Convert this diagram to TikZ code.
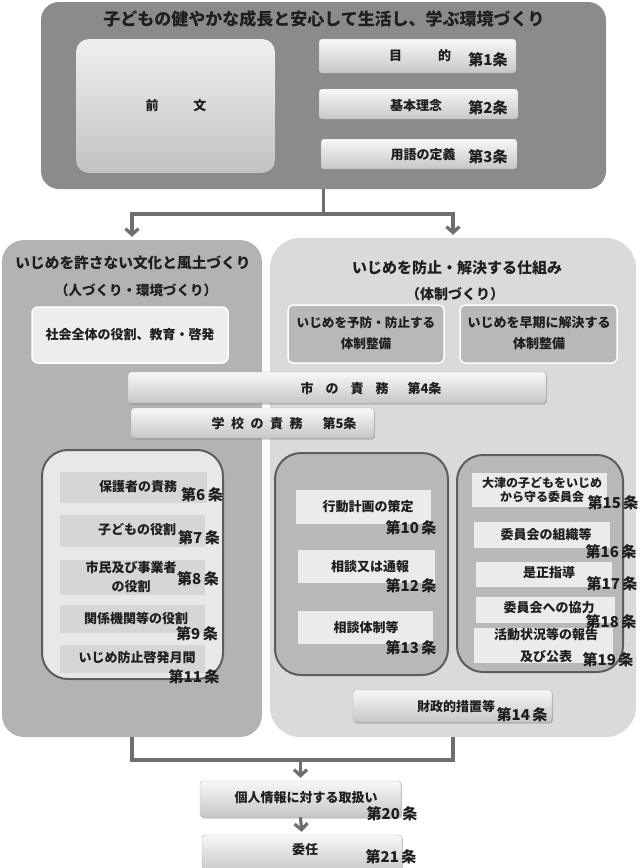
\documentclass[tikz,border=0pt]{standalone}
\usepackage{fontspec}
\setmainfont{Noto Sans CJK JP}
\usetikzlibrary{arrows.meta,shadows}
\definecolor{topbg}{HTML}{8B8B8D}
\definecolor{leftbg}{HTML}{B3B3B5}
\definecolor{rightbg}{HTML}{DADADA}
\definecolor{linec}{HTML}{6E6E6E}
\definecolor{framec}{HTML}{5C5C5C}
\definecolor{ink}{HTML}{1E1E1E}
\newcommand\fsz[1]{\fontsize{#1}{#1}\selectfont}
\newcommand\mkbox[6]{\node[#6, minimum width={#3-#1}, minimum height={#4-#2}, inner sep=0pt] (#5) at ({(#1+#3)/2},{(#2+#4)/2}) {};}
\tikzset{
  gbar/.style={rounded corners=3pt, top color=black!3, bottom color=black!22, draw=black!30, line width=0.4pt,
    drop shadow={shadow xshift=1pt, shadow yshift=-1.5pt, opacity=0.45}},
  tx/.style={inner sep=0pt, text=ink, font=\fsz{13}\bfseries},
  art/.style={inner sep=0pt, text=ink, font=\fsz{15}\bfseries},
  conn/.style={draw=linec, line width=3.2pt},
  arr/.style={conn, -{Straight Barb[length=6pt,width=13pt]}, shorten >=3pt},
  innerframe/.style={draw=framec, line width=2pt, rounded corners=26pt},
  ltitem/.style={fill=black!16, draw=none},
  rtitem/.style={fill=black!8, draw=none},
  subbox/.style={draw=white, line width=1.5pt, rounded corners=5pt},
}
\begin{document}
\begin{tikzpicture}[x=1pt,y=-1pt]
\useasboundingbox (0,0) rectangle (642,868);
% ---------- top block ----------
\mkbox{41}{2}{606}{189}{topbox}{fill=topbg, rounded corners=18pt}
\node[tx, font=\fsz{17}\bfseries] (title) at (324,19) {子どもの健やかな成長と安心して生活し、学ぶ環境づくり};
\mkbox{76}{39}{275}{173}{pre}{rounded corners=13pt, top color=black!6, bottom color=black!24,
  drop shadow={shadow xshift=1pt, shadow yshift=-1.5pt, opacity=0.35}}
\node[tx] (pret) at (176,106) {前\hspace{35pt}文};
\mkbox{319}{39}{516}{73}{b1}{gbar}
\node[tx] (b1t) at (420,56) {目\hspace{36pt}的};
\node[art] (a1) at (488,60) {第1条};
\mkbox{319}{89}{518}{119}{b2}{gbar}
\node[tx] (b2t) at (416,106) {基本理念};
\node[art] (a2) at (488,108) {第2条};
\mkbox{321}{139}{517}{169}{b3}{gbar}
\node[tx] (b3t) at (423,155) {用語の定義};
\node[art] (a3) at (488,157) {第3条};
% ---------- panels ----------
\mkbox{2}{240}{262}{737}{leftp}{fill=leftbg, rounded corners=22pt}
\mkbox{270}{238}{636}{737}{rightp}{fill=rightbg, rounded corners=30pt}
\coordinate (j) at (323.5,214);
\draw[conn] (topbox.south) -- (j);
\draw[arr] (j) -| (leftp.north);
\draw[arr] (j) -| (rightp.north);
% left panel header
\node[tx, font=\fsz{14.7}\bfseries] (lt1) at (133,263) {いじめを許さない文化と風土づくり};
\node[tx, font=\fsz{13.5}\bfseries] (lt2) at (136,290) {（人づくり・環境づくり）};
\mkbox{32}{307}{228}{363}{soc}{subbox, fill=black!7, rounded corners=6pt}
\node[tx] (soct) at (130,335) {社会全体の役割、教育・啓発};
% right panel header
\node[tx, font=\fsz{15}\bfseries] (rt1) at (457,268) {いじめを防止・解決する仕組み};
\node[tx, font=\fsz{14}\bfseries] (rt2) at (455,294) {（体制づくり）};
\mkbox{288}{305}{444}{363}{prev}{subbox, fill=black!28}
\node[tx, align=center, font=\fontsize{12.6}{21}\selectfont\bfseries] (prevt) at (366,333.5) {いじめを予防・防止する\\体制整備};
\mkbox{460}{305}{617}{363}{early}{subbox, fill=black!28}
\node[tx, align=center, font=\fontsize{13}{21}\selectfont\bfseries] (earlyt) at (539,333.5) {いじめを早期に解決する\\体制整備};
% shared bars
\mkbox{128}{372}{546}{403}{city}{gbar}
\node[tx] (cityt) at (371,389) {市\hspace{12pt}の\hspace{12pt}責\hspace{12pt}務\hspace{19pt}第4条};
\mkbox{131}{408}{374}{438}{school}{gbar}
\node[tx] (schoolt) at (284,424) {学\hspace{6.5pt}校\hspace{6.5pt}の\hspace{6.5pt}責\hspace{6.5pt}務\hspace{20pt}第5条};
% ---------- left inner ----------
\mkbox{42}{450}{223}{679}{lin}{innerframe, fill=black!9}
\mkbox{60}{472}{207}{503}{l6}{ltitem}
\node[tx] (l6t) at (138,487) {保護者の責務};
\node[art] (a6) at (202,495) {第6\,条};
\mkbox{60}{515}{205}{547}{l7}{ltitem}
\node[tx] (l7t) at (137,530) {子どもの役割};
\node[art] (a7) at (199,538) {第7\,条};
\mkbox{60}{560}{205}{595}{l8}{ltitem}
\node[tx, align=center, font=\fontsize{13}{19}\selectfont\bfseries] (l8t) at (131,577.5) {市民及び事業者\\の役割};
\node[art] (a8) at (198,579) {第8\,条};
\mkbox{60}{605}{205}{633}{l9}{ltitem}
\node[tx] (l9t) at (136,619) {関係機関等の役割};
\node[art] (a9) at (197,634) {第9\,条};
\mkbox{60}{645}{205}{673}{l11}{ltitem}
\node[tx] (l11t) at (137,658) {いじめ防止啓発月間};
\node[art] (a11) at (194,677) {第11\,条};
% ---------- right inner (left column) ----------
\mkbox{275}{453}{448}{675}{rin1}{innerframe, fill=black!28}
\mkbox{296}{490}{431}{524}{r10}{rtitem}
\node[tx] (r10t) at (368,507) {行動計画の策定};
\node[art] (a10) at (411,528) {第10\,条};
\mkbox{298}{550}{435}{583}{r12}{rtitem}
\node[tx] (r12t) at (370,567) {相談又は通報};
\node[art] (a12) at (411,586) {第12\,条};
\mkbox{298}{611}{433}{644}{r13}{rtitem}
\node[tx] (r13t) at (366,627) {相談体制等};
\node[art] (a13) at (411,648) {第13\,条};
% ---------- right inner (right column) ----------
\mkbox{457}{455}{623}{672}{rin2}{innerframe, fill=black!28}
\mkbox{472}{473}{607}{507}{r15}{rtitem}
\node[tx, align=center, font=\fontsize{12}{14}\selectfont\bfseries] (r15t) at (542,490) {大津の子どもをいじめ\\から守る委員会};
\node[art] (a15) at (613,503) {第15\,条};
\mkbox{474}{522}{610}{548}{r16}{rtitem}
\node[tx] (r16t) at (546,535) {委員会の組織等};
\node[art] (a16) at (611,552) {第16\,条};
\mkbox{476}{562}{612}{587}{r17}{rtitem}
\node[tx] (r17t) at (549,573) {是正指導};
\node[art] (a17) at (612,584) {第17\,条};
\mkbox{476}{597}{615}{623}{r18}{rtitem}
\node[tx] (r18t) at (549,608) {委員会への協力};
\node[art] (a18) at (611,622) {第18\,条};
\mkbox{474}{628}{613}{663}{r19}{rtitem}
\node[tx, align=center, font=\fontsize{13}{22}\selectfont\bfseries] (r19t) at (546,646) {活動状況等の報告\\及び公表};
\node[art] (a19) at (608,660) {第19\,条};
% finance
\mkbox{353}{690}{552}{722}{fin}{gbar}
\node[tx] (fint) at (456,707) {財政的措置等};
\node[art] (a14) at (522,715) {第14\,条};
% ---------- bottom ----------
\mkbox{200}{781}{401}{817}{info}{gbar}
\node[tx] (infot) at (306,798) {個人情報に対する取扱い};
\node[art] (a20) at (392,814) {第20\,条};
\mkbox{202}{835}{402}{872}{inin}{gbar}
\node[tx] (inint) at (305,850) {委任};
\node[art] (a21) at (391,857) {第21\,条};
\coordinate (k) at (300.5,760);
\draw[conn] (leftp.south) |- (k) -| (rightp.south);
\draw[arr] (k) -- (info.north);
\draw[arr] (info.south) -- (inin.north);
\end{tikzpicture}
\end{document}
